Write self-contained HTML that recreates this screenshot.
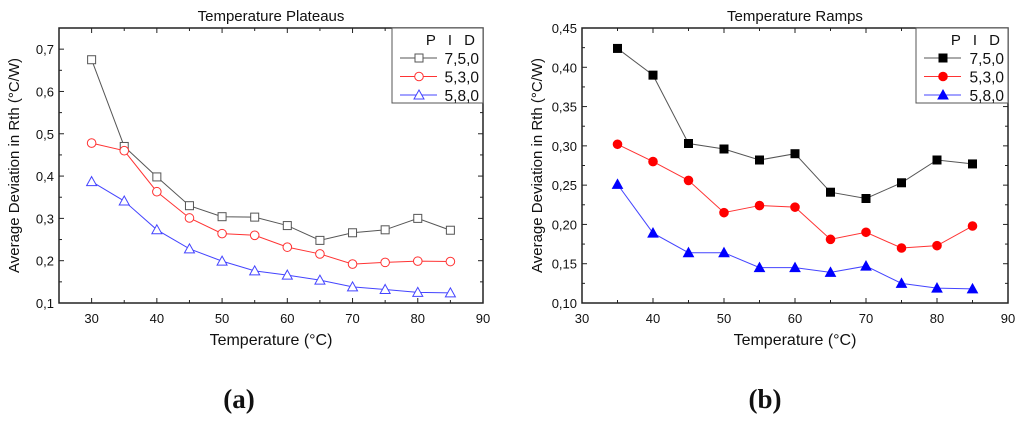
<!DOCTYPE html>
<html><head><meta charset="utf-8"><style>
body{margin:0;background:#fff;width:1024px;height:422px;overflow:hidden}
svg text{font-family:"Liberation Sans",sans-serif;fill:#111}
</style></head><body>
<svg id="s" width="1024" height="422"></svg>
<script>
const xA=[30,35,40,45,50,55,60,65,70,75,80,85];
const a750=[0.675,0.47,0.398,0.33,0.304,0.303,0.283,0.248,0.266,0.273,0.3,0.272];
const a530=[0.478,0.46,0.363,0.301,0.264,0.26,0.232,0.216,0.192,0.196,0.199,0.198];
const a580=[0.387,0.341,0.273,0.228,0.199,0.176,0.166,0.154,0.138,0.132,0.125,0.124];
const xB=[35,40,45,50,55,60,65,70,75,80,85];
const b750=[0.424,0.39,0.303,0.296,0.282,0.29,0.241,0.233,0.253,0.282,0.277];
const b530=[0.302,0.28,0.256,0.215,0.224,0.222,0.181,0.19,0.17,0.173,0.198];
const b580=[0.251,0.189,0.164,0.164,0.145,0.145,0.139,0.147,0.125,0.119,0.118];
const ticksXA=[30,40,50,60,70,80,90];
const ticksYA=[0.1,0.2,0.3,0.4,0.5,0.6,0.7];
const ticksXB=[30,40,50,60,70,80,90];
const ticksYB=[0.10,0.15,0.20,0.25,0.30,0.35,0.40,0.45];
const names=["7,5,0","5,3,0","5,8,0"];
const svg=document.getElementById('s');
const NS='http://www.w3.org/2000/svg';
function el(t,a,p){const e=document.createElementNS(NS,t);for(const k in a)e.setAttribute(k,a[k]);(p||svg).appendChild(e);return e;}
function marker(g,type,x,y,fill,col){
  if(type==='sq')return el('rect',{x:x-4,y:y-4,width:8,height:8,fill:fill?col:'#fff',stroke:col,'stroke-width':1},g);
  if(type==='ci')return el('circle',{cx:x,cy:y,r:4.3,fill:fill?col:'#fff',stroke:col,'stroke-width':1},g);
  return el('path',{d:`M${x},${y-5}L${x+5},${y+4}L${x-5},${y+4}Z`,fill:fill?col:'#fff',stroke:col,'stroke-width':1},g);
}
function chart(o){
  const g=el('g',{});
  
  
  const sx=v=>o.L+(v-o.x0)/(o.x1-o.x0)*(o.R-o.L);
  const sy=v=>o.B-(v-o.y0)/(o.y1-o.y0)*(o.B-o.T);
  const fr=el('rect',{x:o.L,y:o.T,width:o.R-o.L,height:o.B-o.T,fill:'none',stroke:'#222','stroke-width':1.5},g);
  
  o.tx.forEach((v,i)=>{const x=sx(v);
    el('line',{x1:x,x2:x,y1:o.B,y2:o.B-5,stroke:'#222'},g);el('line',{x1:x,x2:x,y1:o.T,y2:o.T+5,stroke:'#222'},g);
    if(i<o.tx.length-1){const xm=sx(v+5);el('line',{x1:xm,x2:xm,y1:o.B,y2:o.B-3,stroke:'#222'},g);el('line',{x1:xm,x2:xm,y1:o.T,y2:o.T+3,stroke:'#222'},g);}
    const t=el('text',{x:x,y:o.B+20,'text-anchor':'middle','font-size':13},g);t.textContent=v;
    });
  if(o.x0<o.tx[0]){const xm=sx(o.tx[0]-5);el('line',{x1:xm,x2:xm,y1:o.B,y2:o.B-3,stroke:'#222'},g);}
  o.ty.forEach((v,i)=>{const y=sy(v);
    el('line',{x1:o.L,x2:o.L+5,y1:y,y2:y,stroke:'#222'},g);el('line',{x1:o.R,x2:o.R-5,y1:y,y2:y,stroke:'#222'},g);
    const ym=sy(v+o.ystep/2);if(ym>=o.T){el('line',{x1:o.L,x2:o.L+3,y1:ym,y2:ym,stroke:'#222'},g);el('line',{x1:o.R,x2:o.R-3,y1:ym,y2:ym,stroke:'#222'},g);}
    const t=el('text',{x:o.L-5,y:y+5,'text-anchor':'end','font-size':13},g);t.textContent=v.toFixed(o.dec).replace('.',',');
    });
  const tt=el('text',{x:(o.L+o.R)/2,y:21,'text-anchor':'middle','font-size':15},g);tt.textContent=o.title;
  
  const xt=el('text',{x:(o.L+o.R)/2,y:345,'text-anchor':'middle','font-size':16},g);xt.textContent='Temperature (°C)';
  
  const yx=o.L-40,yy=(o.T+o.B)/2;
  const yt=el('text',{x:yx,y:yy,'text-anchor':'middle','font-size':15,transform:`rotate(-90 ${yx} ${yy})`},g);yt.textContent='Average Deviation in Rth (°C/W)';
  
  const cols=['#555','#f33','#44f'],mk=['sq','ci','tr'],mcol=o.fill?['#000','#f00','#00f']:['#555','#f33','#44f'];
  o.series.forEach((s,k)=>{
    const pts=s.map((v,i)=>sx(o.xs[i])+','+sy(v)).join(' ');
    const pl=el('polyline',{points:pts,fill:'none',stroke:cols[k],'stroke-width':1},g);
    
    s.forEach((v,i)=>{const m=marker(g,mk[k],sx(o.xs[i]),sy(v),o.fill,mcol[k]);
      });
  });
  const lg=el('g',{},g);
  
  el('rect',{x:o.lx,y:o.T,width:o.R-o.lx,height:75,fill:'#fff',stroke:'#555','stroke-width':1},lg);
  const h=el('text',{x:o.R-4,y:o.T+17,'text-anchor':'end','font-size':15,'letter-spacing':'4'},lg);h.textContent='P I D';
  names.forEach((n,k)=>{const y=o.T+30+k*18.5;
    el('line',{x1:o.lx+8,x2:o.lx+45,y1:y,y2:y,stroke:cols[k]},lg);
    marker(lg,mk[k],o.lx+27,y,o.fill,mcol[k]);
    const t=el('text',{x:o.R-4,y:y+6,'text-anchor':'end','font-size':15.5},lg);t.textContent=n;
    });
}
chart({name:'chart-plateaus',title:'Temperature Plateaus',L:59,R:483,T:28,B:303,x0:25,x1:90,y0:0.1,y1:0.75,ystep:0.1,dec:1,tx:ticksXA,ty:ticksYA,xs:xA,series:[a750,a530,a580],fill:false,lx:392});
chart({name:'chart-ramps',title:'Temperature Ramps',L:582,R:1008,T:28,B:303,x0:30,x1:90,y0:0.1,y1:0.45,ystep:0.05,dec:2,tx:ticksXB,ty:ticksYB,xs:xB,series:[b750,b530,b580],fill:true,lx:916});
[['(a)',239],['(b)',765]].forEach(([s,x])=>{const t=el('text',{x:x,y:408,'text-anchor':'middle','font-size':27,'font-weight':'bold',style:'font-family:"Liberation Serif",serif'});t.textContent=s;
  });
</script>
</body></html>
